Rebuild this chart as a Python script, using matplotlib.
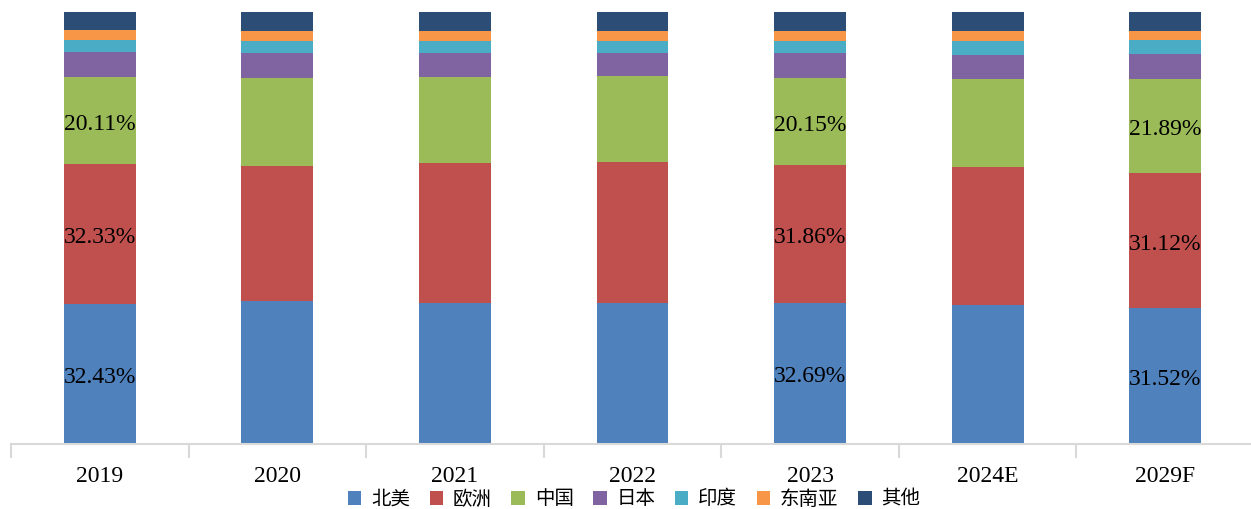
import numpy as np
import matplotlib
matplotlib.use('Agg')
import matplotlib.pyplot as plt

# data (share %)
years = ['2019', '2020', '2021', '2022', '2023', '2024E', '2029F']
regions = ['北美', '欧洲', '中国', '日本', '印度', '东南亚', '其他']
north_america = [32.43, 33.1, 32.6, 32.7, 32.69, 32.2, 31.52]
europe = [32.33, 31.25, 32.4, 32.5, 31.86, 31.9, 31.12]
china = [20.11, 20.4, 19.9, 19.9, 20.15, 20.4, 21.89]
japan = [5.8, 5.8, 5.6, 5.5, 5.8, 5.6, 5.8]
india = [2.8, 2.8, 2.8, 2.8, 2.8, 3.2, 3.2]
sea = [2.3, 2.3, 2.3, 2.3, 2.3, 2.3, 2.1]
other = [4.2, 4.4, 4.4, 4.3, 4.4, 4.4, 4.4]
labeled_years = ['2019', '2023', '2029F']

series = [north_america, europe, china, japan, india, sea, other]
colors = ['#4F81BD', '#C0504D', '#9BBB59', '#8064A2', '#4BACC6', '#F79646', '#2C4D75']

fig = plt.figure(figsize=(12.51, 5.09), dpi=100)
ax = fig.add_axes([11 / 1251, 1 - 444 / 509, 1243 / 1251, 432 / 509])

x = np.arange(len(years))
bottom = np.zeros(len(years))
for i, (vals, c, name) in enumerate(zip(series, colors, regions)):
    vals = np.array(vals)
    ax.bar(x, vals, width=0.405, bottom=bottom, color=c, label=name, zorder=2)
    if i < 3:
        for j, y in enumerate(years):
            if y in labeled_years:
                ax.text(x[j], bottom[j] + vals[j] / 2 - 0.8, f'{vals[j]:.2f}%',
                        ha='center', va='center', fontsize=17,
                        family='Liberation Serif', color='black', zorder=3)
    bottom += vals

ax.set_xlim(-0.5, len(years) - 0.5)
ax.set_ylim(0, 100)
ax.set_yticks([])
for s in ['top', 'right', 'left']:
    ax.spines[s].set_visible(False)
ax.spines['bottom'].set_color('#D9D9D9')
ax.spines['bottom'].set_linewidth(1.5)

ax.set_xticks(x)
ax.set_xticklabels(years, family='Liberation Serif', fontsize=17)
ax.tick_params(axis='x', which='major', length=0, pad=16)
ax.set_xticks(np.arange(-0.5, len(years), 1), minor=True)
ax.tick_params(axis='x', which='minor', length=10, color='#D9D9D9', width=1.5)

fig.legend(loc='center', bbox_to_anchor=(634 / 1251, 1 - 499 / 509), ncol=7,
           frameon=False, prop={'family': ['Noto Sans CJK SC', 'DejaVu Sans'], 'size': 14},
           handlelength=0.7, handleheight=0.7, handletextpad=0.5, columnspacing=1.0,
           borderpad=0, borderaxespad=0)

fig.savefig('out.png', dpi=100)
